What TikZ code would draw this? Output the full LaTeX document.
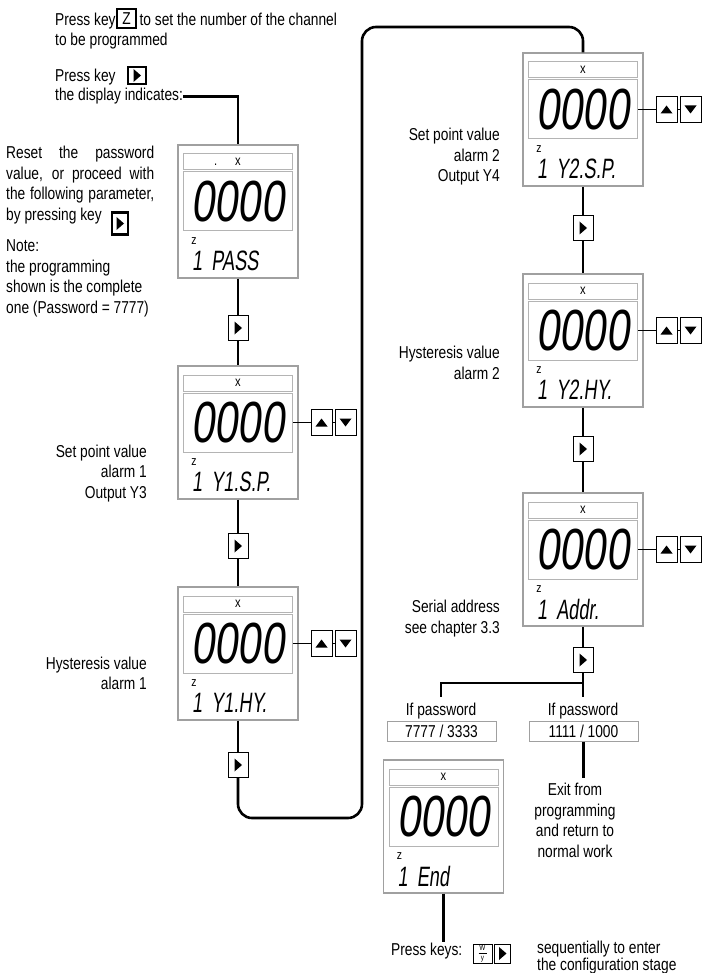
\documentclass[tikz,border=0pt]{standalone}
\usepackage{fontspec}
\setmainfont{Liberation Sans}[FakeStretch=0.8]
\newfontfamily\lcdbig{Liberation Sans}[FakeStretch=0.72,FakeSlant=0.12]
\newfontfamily\lcdsmall{Liberation Sans}[FakeStretch=0.65,FakeSlant=0.12]
\usetikzlibrary{positioning}
\definecolor{framegray}{RGB}{160,160,160}
\definecolor{wingray}{RGB}{180,180,180}

% one display unit: name, centre x, top y, strip text, code text
\newcommand{\lcdunit}[5]{%
  \node[lcdframe] (#1) at (#2,{#3+66.5}) {};
  \node[lcdstrip] (#1bar) at (#2,{#3+17}) {#4};
  \node[lcdwin] (#1dig) at (#2,{#3+56.5}) {0000};
  \node[lcdtag] (#1z) at ({#2-44},{#3+96}) {z};
  \node[lcdcode] (#1code) at ({#2-46},{#3+116}) {#5};
}
% up / down keys beside the digits
\newcommand{\lcdkeys}[1]{%
  \node[upkey, right=17.5pt of #1dig] (#1up) {};
  \node[downkey, right=2pt of #1up] (#1dn) {};
  \draw[line width=.8pt] (#1dig) -- (#1up) -- (#1dn);
}

\begin{document}
\begin{tikzpicture}[
x=1pt, y=-1pt,
every node/.style={inner sep=0pt, font=\fontsize{17.2}{20.5}\selectfont},
flow/.style={line width=2.6pt},
lcdframe/.style={draw=framegray, line width=1.3pt, minimum width=120pt, minimum height=133pt},
lcdstrip/.style={draw=wingray, line width=1pt, minimum width=109pt, minimum height=16pt, font=\fontsize{14}{14}\selectfont},
lcdwin/.style={draw=wingray, line width=1pt, minimum width=109pt, minimum height=59pt, font=\lcdbig\fontsize{58}{58}\selectfont},
lcdtag/.style={font=\fontsize{13}{13}\selectfont},
lcdcode/.style={anchor=west, font=\lcdsmall\fontsize{28}{28}\selectfont},
rtri/.style={path picture={\fill[black] ([xshift=-3.5pt,yshift=6.5pt]path picture bounding box.center) -- ++(7.5pt,-6.5pt) -- ++(-7.5pt,-6.5pt) -- cycle;}},
keybox/.style={draw, line width=1pt, fill=white},
fwdkey/.style={keybox, rtri, minimum width=20pt, minimum height=25pt},
upkey/.style={keybox, minimum width=21pt, minimum height=26pt, path picture={\fill[black] ([xshift=-6pt,yshift=-4pt]path picture bounding box.center) -- ++(12pt,0pt) -- ++(-6pt,8pt) -- cycle;}},
downkey/.style={keybox, minimum width=21pt, minimum height=26pt, path picture={\fill[black] ([xshift=-6pt,yshift=4pt]path picture bounding box.center) -- ++(12pt,0pt) -- ++(-6pt,-8pt) -- cycle;}},
inkey/.style={draw, line width=2.2pt},
pwbox/.style={draw=framegray, line width=1pt, minimum width=109pt, minimum height=20pt},
]
\useasboundingbox (0,0) rectangle (706,973);

% texts on the left
\node[anchor=north west, align=left] (intro) at (55,12.7) {Press key\hspace{24pt}to set the number of the channel\\to be programmed};
\node[inkey, minimum width=19pt, minimum height=19pt] (zkey) at (126.5,18.5) {Z};
\node[anchor=base west] (presskey) at (55,82) {Press key};
\node[inkey, rtri, minimum width=18pt, minimum height=17pt] (pkey) at (137,75.5) {};
\node[anchor=base west] (indic) at (55,101) {the display indicates:};

\node[anchor=north west, text width=148pt, align=justify] (reset) at (6,146) {Reset the password\linebreak value, or proceed with\linebreak the following parameter,\linebreak by pressing key};
\node[inkey, rtri, minimum width=16pt, minimum height=22pt] (rkey) at (120,223.5) {};
\node[anchor=north west, align=left] (note) at (6,239.7) {Note:\\the programming\\shown is the complete\\one (Password = 7777)};
\node[anchor=north east, align=right] (sp1) at (147,444.7) {Set point value\\alarm 1\\Output Y3};
\node[anchor=north east, align=right] (hy1) at (147,656.5) {Hysteresis value\\alarm 1};

% texts on the right
\node[anchor=north east, align=right] (sp2) at (500,128) {Set point value\\alarm 2\\Output Y4};
\node[anchor=north east, align=right] (hy2) at (500,346) {Hysteresis value\\alarm 2};
\node[anchor=north east, align=right] (ser) at (500,600) {Serial address\\see chapter 3.3};

% displays
\lcdunit{d1}{238}{145}{\llap{.\hspace{18pt}}x}{1\hspace{9pt}PASS}
\lcdunit{d2}{238}{366}{x}{1\hspace{9pt}Y1.S.P.}
\lcdunit{d3}{238}{587}{x}{1\hspace{9pt}Y1.HY.}
\lcdunit{r1}{583}{53}{x}{1\hspace{9pt}Y2.S.P.}
\lcdunit{r2}{583}{274}{x}{1\hspace{9pt}Y2.HY.}
\lcdunit{r3}{583}{493}{x}{1\hspace{9pt}Addr.}
\lcdunit{de}{443.5}{760}{x}{1\hspace{9pt}End}
\lcdkeys{d2}
\lcdkeys{d3}
\lcdkeys{r1}
\lcdkeys{r2}
\lcdkeys{r3}

% forward keys
\node[fwdkey] (k1) at (238,328) {};
\node[fwdkey] (k2) at (238,546) {};
\node[fwdkey] (k3) at (238,765) {};
\node[fwdkey] (rk1) at (583,228) {};
\node[fwdkey] (rk2) at (583,449) {};
\node[fwdkey] (rk3) at (583,660) {};

% password choice
\node[anchor=base, inner ysep=5pt] (ifl) at (441,715) {If password};
\node[anchor=base, inner ysep=5pt] (ifr) at (583,715) {If password};
\node[pwbox] (pwl) at (441.5,731) {7777 / 3333};
\node[pwbox] (pwr) at (583.5,731) {1111 / 1000};
\node[anchor=north, align=center, inner ysep=5pt] (exit) at (575,778) {Exit from\\programming\\and return to\\normal work};

% bottom keys
\node[anchor=base west] (presskeys) at (391,955) {Press keys:};
\node[keybox, minimum width=19pt, minimum height=19pt, align=center, font=\fontsize{8}{9.5}\selectfont,
  path picture={\draw[line width=.5pt] ([xshift=-4pt]path picture bounding box.center) -- ++(8pt,0pt);}] (wykey) at (482.5,953.5) {W\\y};
\node[keybox, rtri, minimum width=16pt, minimum height=19pt] (bkey) at (502.5,953.5) {};
\node[anchor=north west, align=left, font=\fontsize{17.2}{17}\selectfont] (seq) at (537,940.5) {sequentially to enter\\the configuration stage};

\coordinate (loopa) at (362,818);
\coordinate (loopb) at (583,27);
\coordinate (fork) at (583,683);

\draw[flow] (indic.east) -| (d1.north);
\draw[flow] (d1) -- (k1) -- (d2) -- (k2) -- (d3) -- (k3);
\draw[flow, rounded corners=14pt] (k3.south) |- (loopa) |- (loopb) -- (r1.north);
\draw[flow] (r1) -- (rk1) -- (r2) -- (rk2) -- (r3) -- (rk3) -- (fork) -| (ifl.north);
\draw[flow] (fork) -- (ifr.north);
\draw[flow] (pwr.south) -- (pwr.south |- exit.north);
\draw[flow] (de.south) -- (de.south |- presskeys.north);

\end{tikzpicture}
\end{document}
